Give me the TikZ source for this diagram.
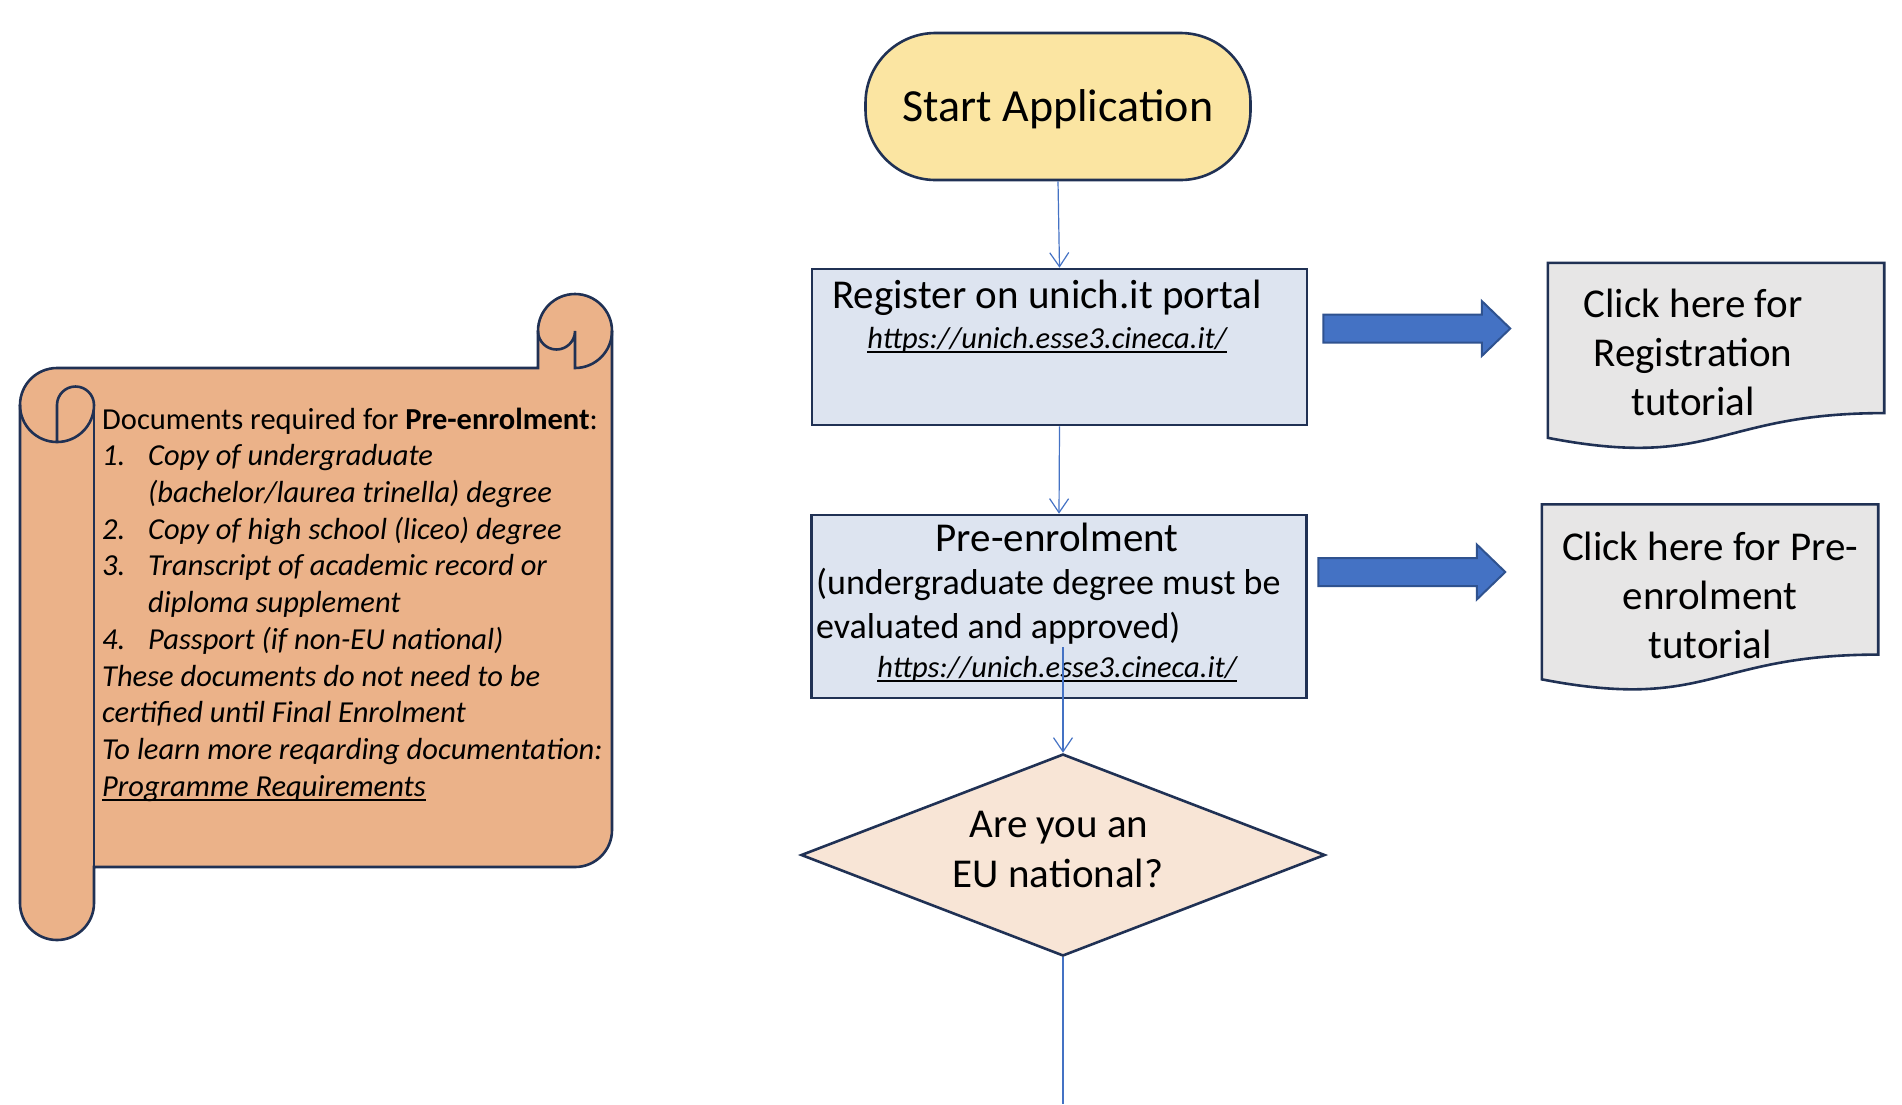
\documentclass[tikz,border=0pt]{standalone}
\usepackage{fontspec}
\setmainfont{Carlito}
\usetikzlibrary{arrows.meta,positioning,calc}
\usetikzlibrary{shapes.geometric,shapes.arrows}
\definecolor{navy}{RGB}{32,49,84}
\definecolor{linkblue}{RGB}{68,114,196}
\definecolor{arrowedge}{RGB}{47,82,143}
\definecolor{startfill}{RGB}{251,229,162}
\definecolor{boxfill}{RGB}{221,228,240}
\definecolor{docfill}{RGB}{231,230,230}
\definecolor{askfill}{RGB}{248,229,214}
\definecolor{scrollfill}{RGB}{235,178,137}
\newcommand{\ulnk}[1]{\leavevmode\setbox0=\hbox{#1}\rlap{\rule[-0.17em]{\wd0}{0.065em}}\box0}
\newcommand{\docpath}[1]{\draw[outline,fill=docfill] (#1.north west) -- (#1.north east)
  -- ($(#1.north east)!0.802!(#1.south east)$)
  .. controls ($(#1.north)!0.802!(#1.south)$) and ($(#1.north)!1.1075!(#1.south)$)
  .. ($(#1.north west)!0.934!(#1.south west)$) -- cycle;}

\begin{document}
\begin{tikzpicture}[x=1pt,y=-1pt,>={Straight Barb[length=14pt,width=19pt]},
  outline/.style={draw=navy,line width=2.6pt},
  portalbox/.style={outline,rectangle,fill=boxfill,minimum width=495pt,inner sep=0pt},
  docbox/.style={rectangle,draw=none,minimum width=336pt,minimum height=187pt,inner sep=0pt},
  bluearrow/.style={single arrow,draw=arrowedge,line width=2pt,fill=linkblue,minimum height=187pt,
    inner xsep=0pt,inner ysep=13pt,single arrow head extend=13.5pt,single arrow tip angle=88},
  linkflow/.style={->,draw=linkblue,line width=1.2pt},
  bigtext/.style={font=\fontsize{41}{49}\selectfont,inner sep=0pt},
  midtext/.style={font=\fontsize{36}{44}\selectfont,inner sep=0pt},
  urltext/.style={font=\fontsize{30.5}{36}\selectfont\itshape,inner sep=0pt}]
\useasboundingbox (0,0) rectangle (1902,1104);
% scroll with the list of documents
\filldraw[outline,fill=scrollfill] (20,903) -- (20,405) arc[start angle=180,end angle=270,radius=37]
  -- (538,368) -- (538,331) arc[start angle=180,end angle=360,radius=37]
  -- (612,830) arc[start angle=0,end angle=90,radius=37] -- (94,867) -- (94,903)
  arc[start angle=0,end angle=180,radius=37] -- cycle;
\draw[outline] (538,331) arc[start angle=180,end angle=0,radius=18.5] -- (575,368)
  arc[start angle=90,end angle=0,radius=37];
\draw[outline] (20,405) arc[start angle=180,end angle=0,radius=37]
  arc[start angle=0,end angle=-180,radius=18.5] -- (57,442);
\draw[outline] (94,405) -- (94,867);
\node (docs) [anchor=north west,align=left,inner sep=0pt,font=\fontsize{30.5}{36.7}\selectfont] at (102,407.5)
  {Documents required for \textbf{Pre-enrolment}:\\
   \textit{\makebox[46pt][l]{1.}Copy of undergraduate}\\
   \textit{\hspace*{46pt}(bachelor/laurea trinella) degree}\\
   \textit{\makebox[46pt][l]{2.}Copy of high school (liceo) degree}\\
   \textit{\makebox[46pt][l]{3.}Transcript of academic record or}\\
   \textit{\hspace*{46pt}diploma supplement}\\
   \textit{\makebox[46pt][l]{4.}Passport (if non-EU national)}\\
   \textit{These documents do not need to be}\\
   \textit{certified until Final Enrolment}\\
   \textit{To learn more reqarding documentation:}\\
   \textit{\ulnk{Programme Requirements}}};
%
\node (start) [outline,rectangle,rounded corners=70pt,fill=startfill,minimum width=385pt,minimum height=147pt,
  text height=32pt,text depth=3pt,font=\fontsize{46}{50}\selectfont] at (1058,106.5) {Start Application};
%
\node (reg) [portalbox,minimum height=156pt] at (1059.5,347) {};
\node (regtitle) [bigtext,anchor=base] at (1047,308) {Register on unich.it portal};
\node (regurl) [urltext,anchor=base] at (1047,348) {\ulnk{https://unich.esse3.cineca.it/}};
%
\node (pre) [portalbox,minimum height=183pt] at (1059,606.5) {};
\node (pretitle) [bigtext,anchor=base] at (1057,551) {Pre-enrolment};
\node (prenote) [midtext,anchor=base west] at (816,594) {(undergraduate degree must be};
\node (prenotb) [midtext,anchor=base west] at (816,638) {evaluated and approved)};
\node (preurl) [urltext,anchor=base] at (1057,677) {\ulnk{https://unich.esse3.cineca.it/}};
\coordinate (preout) at (1063,647);
%
\node (ask) [outline,diamond,fill=askfill,minimum width=524pt,minimum height=202pt,inner sep=0pt] at (1063,855) {};
\node (askone) [bigtext,anchor=base] at (1059,837) {Are you an};
\node (asktwo) [bigtext,anchor=base] at (1058,887) {EU national?};
\coordinate (next) at (1063,1104);
%
\node (regarrow) [bluearrow] at (1409.5,328.5) {};
\node (prearrow) [bluearrow] at (1404.5,572) {};
%
\node (regdoc) [docbox] at (1716,356.5) {};
\docpath{regdoc}
\node (regdoctext) [bigtext,align=center,anchor=north] at (1693,289) {Click here for\\Registration\\tutorial};
\node (predoc) [docbox] at (1710,598) {};
\docpath{predoc}
\node (predoctext) [bigtext,align=center,anchor=north] at (1710,532) {Click here for Pre-\\enrolment\\tutorial};
%
\draw[linkflow] (start.south) -- (reg.north);
\draw[linkflow] (reg.south) -- (pre.north);
\draw[linkflow] (preout) -- (ask.north);
\draw[linkflow,-] (ask.south) -- (next);
%
\end{tikzpicture}
\end{document}
